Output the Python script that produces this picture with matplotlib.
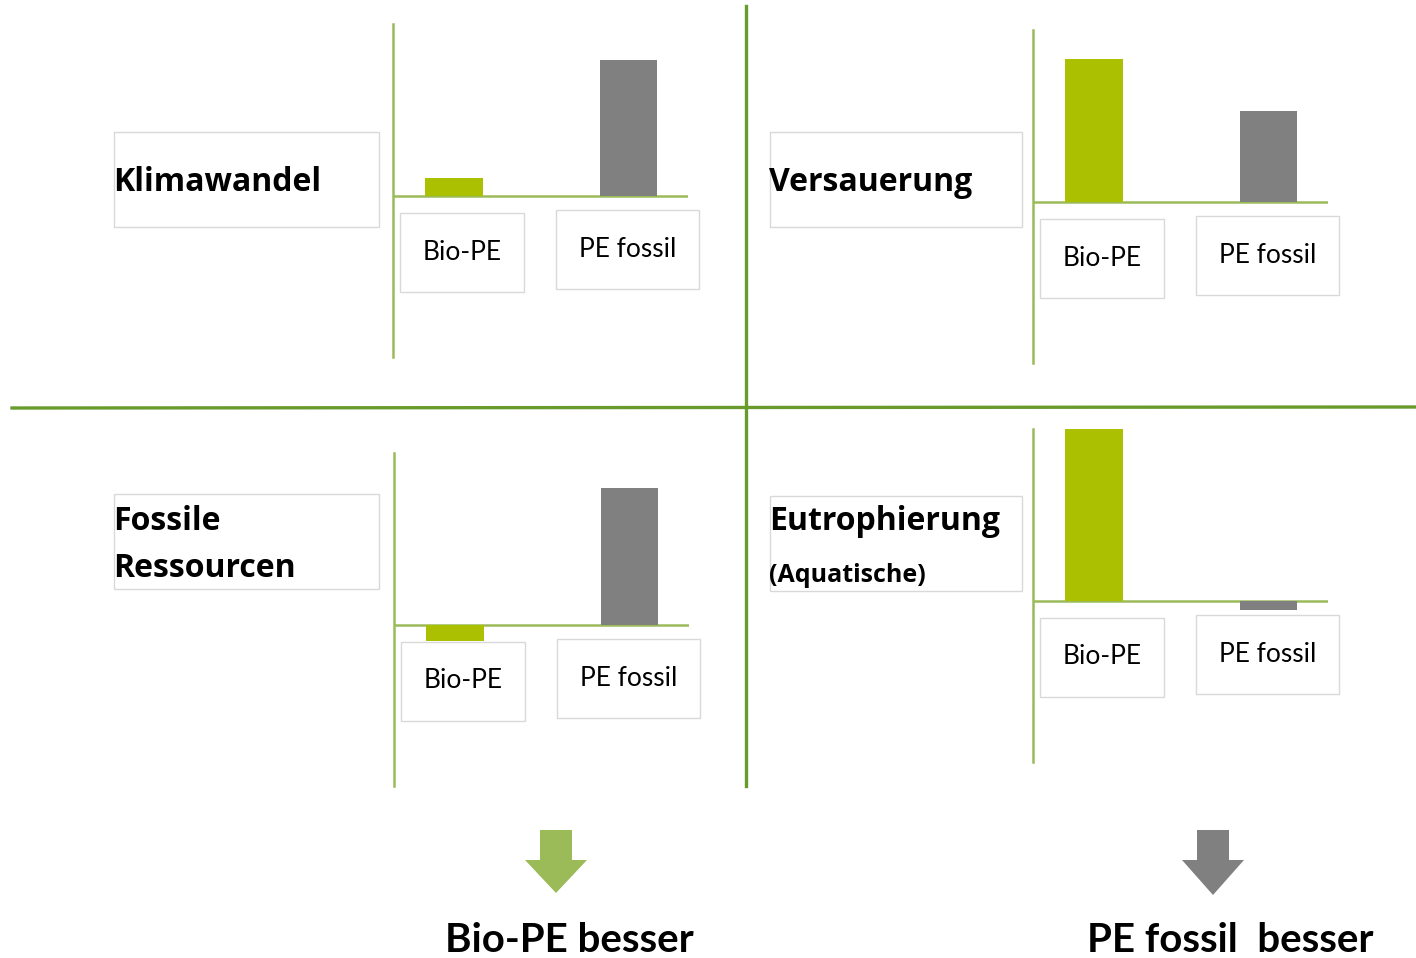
import matplotlib.pyplot as plt
from matplotlib.patches import Rectangle, FancyArrow

# Wirkungskategorien und relative Werte (aus dem Bild geschätzt)
kategorien = ["Klimawandel", "Versauerung", "Fossile\nRessourcen", "Eutrophierung"]
produkte = ["Bio-PE", "PE fossil"]
klimawandel = [18, 136]
versauerung = [143, 91]
fossile = [-16, 137]
eutrophierung = [173, -9]
werte = [klimawandel, versauerung, fossile, eutrophierung]

GRUEN = "#aac000"
GRAU = "#808080"
ACHSE = "#9bbb59"
TRENN = "#689a2c"
RAHMEN = "#d9d9d9"

W, H = 1416, 958
fig = plt.figure(figsize=(W / 100, H / 100), dpi=100)

# Overlay in Pixelkoordinaten
ov = fig.add_axes([0, 0, 1, 1])
ov.set_xlim(0, W)
ov.set_ylim(H, 0)
ov.axis("off")

# Trennlinien
ov.plot([12, W], [408, 407], color=TRENN, lw=2.4)
ov.plot([746, 746], [6, 786], color=TRENN, lw=2.4)

# Panel-Positionen (Achsenursprung in Pixel)
ursprung = [(393, 196), (1033, 202), (394, 625), (1033, 601)]
titel_box = [(114, 132), (770, 132), (114, 494), (770, 496)]

for i, (x0, y0) in enumerate(ursprung):
    ax = fig.add_axes([x0 / W, 1 - (y0 + 161) / H, 295 / W, 333 / H])
    ax.set_facecolor("none")
    ax.bar([0, 1], werte[i], width=0.33, color=[GRUEN, GRAU], zorder=3)
    ax.axhline(0, color=ACHSE, lw=1.8, zorder=2)
    ax.set_xlim(-0.35, 1.34)
    ax.set_ylim(-161, 172)
    for s in ["top", "right", "bottom"]:
        ax.spines[s].set_visible(False)
    ax.spines["left"].set_color(ACHSE)
    ax.spines["left"].set_linewidth(1.8)
    ax.set_xticks([])
    ax.set_yticks([])

    # Beschriftungskästen der Produkte
    ov.add_patch(Rectangle((x0 + 7, y0 + 17), 124, 79, fill=False, ec=RAHMEN, lw=1))
    ov.text(x0 + 69, y0 + 56, produkte[0], ha="center", va="center",
            fontsize=19, family="Lato")
    ov.add_patch(Rectangle((x0 + 163, y0 + 14), 143, 79, fill=False, ec=RAHMEN, lw=1))
    ov.text(x0 + 235, y0 + 53, produkte[1], ha="center", va="center",
            fontsize=19, family="Lato")

    # Titelkasten
    bx, by = titel_box[i]
    bw = 265 if bx < 500 else 252
    ov.add_patch(Rectangle((bx, by), bw, 95, fill=False, ec=RAHMEN, lw=1))

ov.text(113, 182, kategorien[0], ha="left", va="center", fontsize=23,
        family="Open Sans", weight="bold")
ov.text(769, 182, kategorien[1], ha="left", va="center", fontsize=23,
        family="Open Sans", weight="bold")
ov.text(113, 545, kategorien[2], ha="left", va="center", fontsize=23,
        family="Open Sans", weight="bold", linespacing=1.55)
ov.text(769, 521, kategorien[3], ha="left", va="center", fontsize=23,
        family="Open Sans", weight="bold")
ov.text(769, 576, "(Aquatische)", ha="left", va="center", fontsize=18,
        family="Open Sans", weight="bold")

# Pfeile und Fazit
ov.add_patch(FancyArrow(556, 830, 0, 63, width=32, head_width=62, head_length=33,
                        length_includes_head=True, color=ACHSE, lw=0))
ov.add_patch(FancyArrow(1213, 830, 0, 65, width=32, head_width=62, head_length=35,
                        length_includes_head=True, color=GRAU, lw=0))
ov.text(569, 941, "Bio-PE besser", ha="center", va="center", fontsize=29,
        family="Lato", weight="bold")
ov.text(1230, 941, "PE fossil  besser", ha="center", va="center", fontsize=29,
        family="Lato", weight="bold")

plt.savefig("out.png", dpi=100)
